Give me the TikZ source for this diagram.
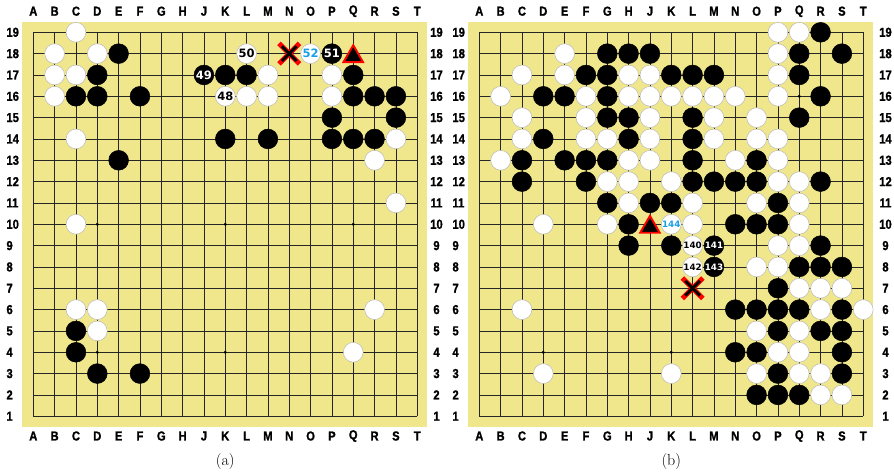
\documentclass[tikz,border=0pt]{standalone}
\usepackage{fontspec}
\newfontfamily\lblfont[FakeStretch=0.86,FakeBold=1.2,BoldFont={Liberation Sans Bold}]{Liberation Sans}
\newfontfamily\numfont{DejaVu Sans}
\usetikzlibrary{shapes.geometric,shapes.misc}
\definecolor{boardcol}{RGB}{240,230,140}
\definecolor{numblue}{RGB}{25,160,230}
\definecolor{stoneedge}{RGB}{185,185,185}
\def\gcA{1}\def\gcB{2}\def\gcC{3}\def\gcD{4}\def\gcE{5}\def\gcF{6}\def\gcG{7}
\def\gcH{8}\def\gcJ{9}\def\gcK{10}\def\gcL{11}\def\gcM{12}\def\gcN{13}\def\gcO{14}
\def\gcP{15}\def\gcQ{16}\def\gcR{17}\def\gcS{18}\def\gcT{19}
\def\gs{21.33}
\newcommand\stone[4]{\node[#1] (\bn#2#3) at ({\bx+(\csname gc#2\endcsname-1)*\gs},{32.3+(19-#3)*\gs}) {#4};}
\newcommand\xmark[2]{%
  \node[xmk,draw=red,line width=5pt,line cap=rect] (\bn#1#2) at ({\bx+(\csname gc#1\endcsname-1)*\gs},{32.3+(19-#2)*\gs}) {};
  \node[xmk,draw=black,line width=2.8pt] (\bn#1#2-in) at (\bn#1#2) {};}
\newcommand\goboard[3]{% name, grid left x, right number x
  \def\bn{#1}\def\bx{#2}
  \fill[boardcol] (\bx-11,21.5) rectangle ({\bx+18*\gs+9.6},426.8);
  \foreach \i in {0,...,18} {
    \draw[gridline] ({\bx+\i*\gs},32.3) -- ({\bx+\i*\gs},{32.3+18*\gs});
    \draw[gridline] (\bx,{32.3+\i*\gs}) -- ({\bx+18*\gs},{32.3+\i*\gs});
  }
  \foreach \c in {D,K,Q} \foreach \r in {4,10,16}
    \fill ({\bx+(\csname gc\c\endcsname-1)*\gs},{32.3+(19-\r)*\gs}) circle (1.7);
  \foreach \c [count=\k from 0] in {A,B,C,D,E,F,G,H,J,K,L,M,N,O,P,Q,R,S,T} {
    \node[lbl] (\bn-top-\c) at ({\bx+\k*\gs},11.2) {\c};
    \node[lbl] (\bn-bot-\c) at ({\bx+\k*\gs},436) {\c};
  }
  \foreach \r in {1,...,19} {
    \node[lbl,anchor=west] (\bn-left-\r) at (\bx-27,{32.3+(19-\r)*\gs}) {\r};
    \node[lbl] (\bn-right-\r) at (#3,{32.3+(19-\r)*\gs}) {\r};
  }
  \node[font=\fontsize{16}{18}\selectfont,inner sep=0pt] (\bn-cap) at ({\bx+9*\gs},461) {(#1)};
}
\begin{document}
\begin{tikzpicture}[x=1pt,y=-1pt,
  gridline/.style={draw=black!85,line width=0.75pt},
  lbl/.style={font=\lblfont\bfseries\fontsize{13}{14}\selectfont,inner sep=0pt},
  ws/.style={circle,fill=white,draw=stoneedge,line width=0.5pt,minimum size=19.8pt,inner sep=0pt,
    font=\numfont\bfseries\fontsize{11.5}{12}\selectfont},
  bs/.style={circle,fill=black,draw=black,line width=0.5pt,minimum size=19.8pt,inner sep=0pt,text=white,
    font=\numfont\bfseries\fontsize{11.5}{12}\selectfont},
  tinynum/.style={font=\numfont\bfseries\fontsize{8.8}{9}\selectfont},
  tri/.style={regular polygon,regular polygon sides=3,fill=black,draw=red,line width=1.9pt,
    minimum size=22.5pt,inner sep=0pt,yshift=-2.8pt},
  xmk/.style={cross out,minimum size=12pt,inner sep=0pt}]
\useasboundingbox (0,0) rectangle (894,475);
\fill[white] (0,0) rectangle (894,475);

% ---------------- board (a)
\goboard{a}{33.3}{436.5}
\foreach \c/\r in {C/19,B/18,D/18,B/17,C/17,B/16,C/14,C/10,C/6,D/6,D/5,R/6,Q/4,
  L/16,M/16,M/17,P/17,P/16,S/14,R/13,S/11} {\stone{ws}{\c}{\r}{}}
\foreach \c/\r in {E/18,D/17,C/16,D/16,F/16,K/17,L/17,Q/17,Q/16,R/16,S/16,P/15,S/15,
  K/14,M/14,P/14,Q/14,R/14,E/13,C/5,C/4,D/3,F/3} {\stone{bs}{\c}{\r}{}}
\stone{ws}{K}{16}{48}
\stone{ws}{L}{18}{50}
\stone{ws,text=numblue}{O}{18}{52}
\stone{bs}{J}{17}{49}
\stone{bs}{P}{18}{51}
\xmark{N}{18}
\stone{tri}{Q}{18}{}

% ---------------- board (b)
\goboard{b}{479.3}{885.5}
\foreach \c/\r in {E/18,C/17,E/17,H/17,J/17,B/16,F/16,H/16,J/16,K/16,C/15,F/15,J/15,
  C/14,F/14,G/14,J/14,B/13,H/13,J/13,G/12,H/12,K/12,H/11,D/10,G/10,
  P/19,Q/19,P/18,P/17,L/16,M/16,N/16,P/16,M/15,O/15,M/14,O/14,P/14,N/13,P/13,
  P/12,Q/12,L/11,O/11,Q/11,L/10,Q/10,P/9,Q/9,O/8,P/8,Q/7,R/7,S/7,R/6,T/6,
  O/5,Q/5,P/4,Q/4,C/6,D/3,K/3,O/3,Q/3,R/3,R/2,S/2} {\stone{ws}{\c}{\r}{}}
\foreach \c/\r in {G/18,H/18,J/18,F/17,G/17,K/17,D/16,E/16,G/16,G/15,H/15,D/14,H/14,
  C/13,E/13,F/13,G/13,C/12,F/12,G/11,J/11,K/11,H/10,H/9,K/9,
  R/19,Q/18,S/18,L/17,M/17,Q/17,R/16,L/15,Q/15,L/14,L/13,O/13,L/12,M/12,N/12,O/12,
  R/12,P/11,N/10,O/10,P/10,R/9,Q/8,R/8,S/8,P/7,N/6,O/6,P/6,Q/6,S/6,P/5,R/5,S/5,
  N/4,O/4,S/4,P/3,S/3,O/2,P/2,Q/2} {\stone{bs}{\c}{\r}{}}
\stone{ws,tinynum,text=numblue}{K}{10}{144}
\stone{ws,tinynum}{L}{9}{140}
\stone{bs,tinynum}{M}{9}{141}
\stone{ws,tinynum}{L}{8}{142}
\stone{bs,tinynum}{M}{8}{143}
\xmark{L}{7}
\stone{tri}{J}{10}{}
\end{tikzpicture}
\end{document}
